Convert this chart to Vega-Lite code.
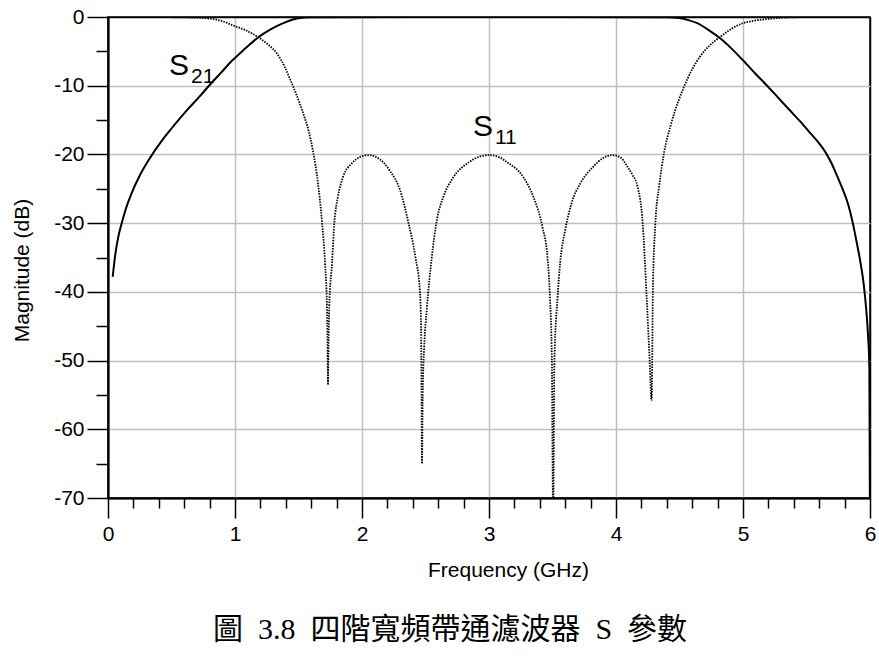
{
  "$schema": "https://vega.github.io/schema/vega-lite/v6.json",
  "autosize": {"type": "none"},
  "width": 762,
  "height": 481,
  "padding": {"left": 108, "top": 17, "right": 9, "bottom": 159},
  "background": "white",
  "config": {
    "view": {"stroke": "black", "strokeWidth": 1.5},
    "font": "Liberation Sans"
  },
  "title": {
    "text": "圖\u20023.8\u2002四階寬頻帶通濾波器\u2002S\u2002參數",
    "orient": "bottom",
    "anchor": "middle",
    "frame": "group",
    "dx": -39,
    "offset": 35,
    "fontSize": 30,
    "font": "Liberation Serif, Noto Sans CJK TC",
    "fontWeight": "normal",
    "color": "black"
  },
  "datasets": {
    "s21": [
      {"freq": 0.037, "db": -37.8}, {"freq": 0.055, "db": -34.9}, {"freq": 0.081, "db": -32.0},
      {"freq": 0.108, "db": -30.0}, {"freq": 0.134, "db": -28.3}, {"freq": 0.187, "db": -25.6},
      {"freq": 0.252, "db": -23.0}, {"freq": 0.331, "db": -20.5}, {"freq": 0.42, "db": -18.1},
      {"freq": 0.51, "db": -16.0}, {"freq": 0.61, "db": -13.8}, {"freq": 0.72, "db": -11.6},
      {"freq": 0.80, "db": -9.9}, {"freq": 0.89, "db": -8.1}, {"freq": 0.98, "db": -6.3},
      {"freq": 1.08, "db": -4.6}, {"freq": 1.18, "db": -3.0}, {"freq": 1.28, "db": -1.8},
      {"freq": 1.38, "db": -0.9}, {"freq": 1.45, "db": -0.4}, {"freq": 1.51, "db": -0.15},
      {"freq": 1.6, "db": -0.02}, {"freq": 2.5, "db": 0}, {"freq": 3.5, "db": 0},
      {"freq": 4.4, "db": -0.02}, {"freq": 4.5, "db": -0.15}, {"freq": 4.57, "db": -0.45},
      {"freq": 4.64, "db": -0.9}, {"freq": 4.73, "db": -1.9}, {"freq": 4.82, "db": -3.1},
      {"freq": 4.91, "db": -4.6}, {"freq": 5.0, "db": -6.3}, {"freq": 5.1, "db": -8.3},
      {"freq": 5.19, "db": -10.0}, {"freq": 5.28, "db": -11.8}, {"freq": 5.37, "db": -13.6},
      {"freq": 5.45, "db": -15.2}, {"freq": 5.53, "db": -16.9}, {"freq": 5.60, "db": -18.4},
      {"freq": 5.65, "db": -19.7}, {"freq": 5.70, "db": -21.4}, {"freq": 5.74, "db": -23.1},
      {"freq": 5.79, "db": -25.3}, {"freq": 5.83, "db": -27.4}, {"freq": 5.86, "db": -29.6},
      {"freq": 5.89, "db": -32.3}, {"freq": 5.92, "db": -35.2}, {"freq": 5.95, "db": -38.8},
      {"freq": 5.97, "db": -42.5}, {"freq": 5.985, "db": -46.5}, {"freq": 5.995, "db": -51.0},
      {"freq": 6.0, "db": -75}
    ],
    "s11": [
      {"freq": 0.04, "db": 0}, {"freq": 0.3, "db": -0.01}, {"freq": 0.5, "db": -0.03},
      {"freq": 0.65, "db": -0.08}, {"freq": 0.75, "db": -0.15}, {"freq": 0.83, "db": -0.3},
      {"freq": 0.9, "db": -0.6}, {"freq": 0.98, "db": -1.2}, {"freq": 1.08, "db": -1.9},
      {"freq": 1.18, "db": -2.9}, {"freq": 1.26, "db": -4.0}, {"freq": 1.33, "db": -5.3},
      {"freq": 1.39, "db": -7.2}, {"freq": 1.43, "db": -8.9}, {"freq": 1.49, "db": -11.6},
      {"freq": 1.54, "db": -14.2}, {"freq": 1.58, "db": -16.6}, {"freq": 1.614, "db": -19.5},
      {"freq": 1.654, "db": -24.3}, {"freq": 1.685, "db": -29.8}, {"freq": 1.709, "db": -35.8},
      {"freq": 1.724, "db": -42.2}, {"freq": 1.729, "db": -48.0}, {"freq": 1.732, "db": -53.5},
      {"freq": 1.736, "db": -48.0}, {"freq": 1.742, "db": -42.2}, {"freq": 1.764, "db": -35.8},
      {"freq": 1.782, "db": -30.0}, {"freq": 1.81, "db": -26.2}, {"freq": 1.85, "db": -23.3},
      {"freq": 1.92, "db": -21.3}, {"freq": 1.98, "db": -20.4}, {"freq": 2.05, "db": -20.1},
      {"freq": 2.14, "db": -20.7}, {"freq": 2.22, "db": -22.4}, {"freq": 2.30, "db": -25.2},
      {"freq": 2.36, "db": -29.5}, {"freq": 2.42, "db": -34.9}, {"freq": 2.455, "db": -39.7},
      {"freq": 2.465, "db": -45.0}, {"freq": 2.469, "db": -55.0}, {"freq": 2.472, "db": -65.0},
      {"freq": 2.478, "db": -55.0}, {"freq": 2.49, "db": -48.0}, {"freq": 2.51, "db": -42.6},
      {"freq": 2.55, "db": -34.9}, {"freq": 2.59, "db": -29.5}, {"freq": 2.64, "db": -26.2},
      {"freq": 2.72, "db": -23.3}, {"freq": 2.83, "db": -21.3}, {"freq": 2.93, "db": -20.3},
      {"freq": 3.0, "db": -20.1}, {"freq": 3.08, "db": -20.4}, {"freq": 3.14, "db": -21.1},
      {"freq": 3.27, "db": -23.3}, {"freq": 3.35, "db": -26.2}, {"freq": 3.42, "db": -30.5},
      {"freq": 3.46, "db": -34.9}, {"freq": 3.48, "db": -40.8}, {"freq": 3.495, "db": -50.0},
      {"freq": 3.505, "db": -72.0}, {"freq": 3.515, "db": -50.0}, {"freq": 3.54, "db": -40.8},
      {"freq": 3.56, "db": -35.8}, {"freq": 3.60, "db": -31.0}, {"freq": 3.65, "db": -27.1},
      {"freq": 3.72, "db": -24.2}, {"freq": 3.82, "db": -21.8}, {"freq": 3.90, "db": -20.5},
      {"freq": 3.97, "db": -20.1}, {"freq": 4.04, "db": -20.5}, {"freq": 4.08, "db": -21.5},
      {"freq": 4.13, "db": -23.0}, {"freq": 4.17, "db": -24.7}, {"freq": 4.21, "db": -30.0},
      {"freq": 4.24, "db": -40.2}, {"freq": 4.265, "db": -49.9}, {"freq": 4.28, "db": -55.8},
      {"freq": 4.285, "db": -49.9}, {"freq": 4.29, "db": -40.2}, {"freq": 4.31, "db": -30.0},
      {"freq": 4.34, "db": -24.6}, {"freq": 4.38, "db": -19.6}, {"freq": 4.43, "db": -15.8},
      {"freq": 4.49, "db": -12.3}, {"freq": 4.53, "db": -10.4}, {"freq": 4.60, "db": -7.6},
      {"freq": 4.66, "db": -5.8}, {"freq": 4.74, "db": -4.1}, {"freq": 4.82, "db": -2.9},
      {"freq": 4.91, "db": -1.7}, {"freq": 5.0, "db": -0.9}, {"freq": 5.1, "db": -0.5},
      {"freq": 5.19, "db": -0.3}, {"freq": 5.31, "db": -0.1}, {"freq": 5.5, "db": -0.02},
      {"freq": 6.0, "db": 0}
    ],
    "labels": [
      {"freq": 0.48, "db": -8.44, "main": "S", "sub": "21"},
      {"freq": 2.874, "db": -17.3, "main": "S", "sub": "11"}
    ]
  },
  "resolve": {"axis": {"x": "independent", "y": "independent"}},
  "layer": [
    {
      "data": {"name": "s21"},
      "mark": {"type": "line", "color": "black", "strokeWidth": 2, "clip": true, "interpolate": "monotone"},
      "encoding": {
        "x": {
          "field": "freq", "type": "quantitative",
          "scale": {"domain": [0, 6], "nice": false, "zero": false},
          "axis": {
            "orient": "bottom",
            "values": [0, 1, 2, 3, 4, 5, 6],
            "grid": true,
            "gridColor": {"condition": {"test": "datum.value == 0 || datum.value == 6", "value": "black"}, "value": "#c0c0c0"},
            "gridWidth": 1.5,
            "tickSize": 20, "tickColor": "black", "tickWidth": 1.5,
            "domainColor": "black", "domainWidth": 2,
            "labelFontSize": 21, "labelFont": "Liberation Sans", "labelColor": "black", "labelPadding": 5,
            "labelFlush": false,
            "title": "Frequency (GHz)",
            "titleFontSize": 21, "titleFont": "Liberation Sans", "titleFontWeight": "normal", "titleColor": "black",
            "titleX": 400, "titleY": 61
          }
        },
        "y": {
          "field": "db", "type": "quantitative",
          "scale": {"domain": [-70, 0], "nice": false, "zero": false},
          "axis": {
            "orient": "left",
            "values": [-70, -60, -50, -40, -30, -20, -10, 0],
            "labelExpr": "datum.value + ''",
            "grid": true,
            "gridColor": {"condition": {"test": "datum.value == 0 || datum.value == -70", "value": "black"}, "value": "#c0c0c0"},
            "gridWidth": 1.5,
            "tickSize": 21, "tickColor": "black", "tickWidth": 1.5,
            "domainColor": "black", "domainWidth": 2,
            "labelFontSize": 21, "labelFont": "Liberation Sans", "labelColor": "black", "labelPadding": 3,
            "labelFlush": false,
            "title": "Magnitude (dB)",
            "titleFontSize": 21, "titleFont": "Liberation Sans", "titleFontWeight": "normal", "titleColor": "black",
            "titleX": -86, "titleY": 253, "titleAngle": -90, "titleAlign": "center", "titleBaseline": "middle"
          }
        }
      }
    },
    {
      "data": {"name": "s11"},
      "mark": {"type": "line", "color": "black", "strokeWidth": 1.8, "strokeDash": [1.5, 1.2], "clip": true, "interpolate": "monotone"},
      "encoding": {
        "x": {
          "field": "freq", "type": "quantitative",
          "axis": {
            "orient": "bottom",
            "values": [0.2, 0.4, 0.6, 0.8, 1.2, 1.4, 1.6, 1.8, 2.2, 2.4, 2.6, 2.8, 3.2, 3.4, 3.6, 3.8, 4.2, 4.4, 4.6, 4.8, 5.2, 5.4, 5.6, 5.8],
            "grid": false, "labels": false, "domain": false, "title": null,
            "tickSize": 10, "tickColor": "black", "tickWidth": 1.5
          }
        },
        "y": {
          "field": "db", "type": "quantitative",
          "axis": {
            "orient": "left",
            "values": [-65, -55, -45, -35, -25, -15, -5],
            "grid": false, "labels": false, "domain": false, "title": null,
            "tickSize": 12, "tickColor": "black", "tickWidth": 1.5
          }
        }
      }
    },
    {
      "data": {"name": "labels"},
      "mark": {"type": "text", "align": "left", "baseline": "alphabetic", "fontSize": 30, "font": "Liberation Sans", "color": "black"},
      "encoding": {
        "x": {"field": "freq", "type": "quantitative", "axis": null},
        "y": {"field": "db", "type": "quantitative", "axis": null},
        "text": {"field": "main"}
      }
    },
    {
      "data": {"name": "labels"},
      "mark": {"type": "text", "align": "left", "baseline": "alphabetic", "fontSize": 21, "font": "Liberation Sans", "color": "black", "dx": 22, "dy": 8},
      "encoding": {
        "x": {"field": "freq", "type": "quantitative", "axis": null},
        "y": {"field": "db", "type": "quantitative", "axis": null},
        "text": {"field": "sub"}
      }
    }
  ]
}
